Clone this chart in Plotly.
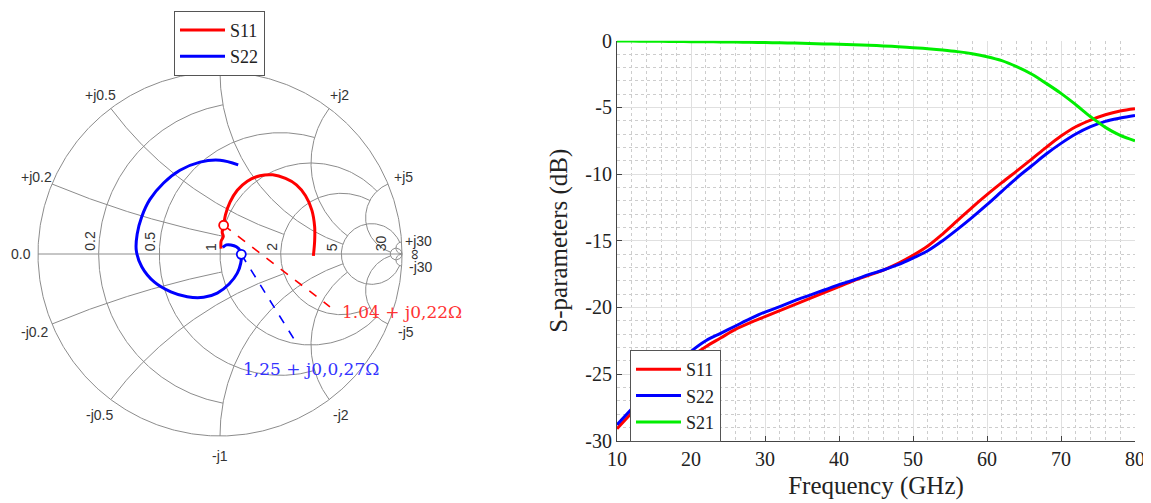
import numpy as np
import plotly.graph_objects as go

# ---------------- data: S-parameters vs frequency ----------------
freq_ghz = [10, 12, 14, 16, 18, 20, 22, 24, 26, 28, 30, 32, 34, 36, 38, 40, 42, 44,
            46, 48, 50, 52, 54, 56, 58, 60, 62, 64, 66, 68, 70, 72, 74, 76, 78, 80]
s11_db = [-29.1, -27.9, -26.7, -25.6, -24.6, -23.7, -22.95, -22.3, -21.65, -21.15, -20.7,
          -20.25, -19.8, -19.35, -18.9, -18.45, -18.0, -17.6, -17.2, -16.7, -16.1, -15.4,
          -14.5, -13.5, -12.5, -11.55, -10.65, -9.78, -8.9, -8.0, -7.15, -6.45, -5.95,
          -5.55, -5.27, -5.1]
s22_db = [-28.8, -27.6, -26.4, -25.3, -24.3, -23.3, -22.5, -21.95, -21.4, -20.85, -20.35,
          -19.95, -19.5, -19.1, -18.7, -18.3, -17.95, -17.55, -17.2, -16.8, -16.3, -15.75,
          -15.0, -14.15, -13.25, -12.3, -11.3, -10.3, -9.4, -8.5, -7.7, -7.0, -6.45, -6.05,
          -5.8, -5.6]
s21_db = [-0.02, -0.03, -0.04, -0.05, -0.06, -0.07, -0.08, -0.09, -0.1, -0.12, -0.14,
          -0.16, -0.18, -0.21, -0.24, -0.27, -0.3, -0.34, -0.39, -0.45, -0.52, -0.6,
          -0.7, -0.82, -0.98, -1.2, -1.5, -1.95, -2.5, -3.2, -3.95, -4.8, -5.7, -6.5,
          -7.1, -7.5]

# ---------------- data: reflection coefficients (real, imag) ----------------
s11_re = [0.006, 0.006, 0.018, 0.012, 0.020, 0.030, 0.055, 0.095, 0.150, 0.220, 0.290,
          0.360, 0.420, 0.470, 0.505, 0.520, 0.520, 0.513]
s11_im = [0.030, 0.070, 0.095, 0.120, 0.158, 0.215, 0.285, 0.350, 0.400, 0.430, 0.435,
          0.415, 0.380, 0.320, 0.240, 0.150, 0.070, -0.010]
s22_re = [0.015, 0.035, 0.060, 0.090, 0.110, 0.117, 0.114, 0.095, 0.050, -0.015, -0.090,
          -0.180, -0.270, -0.360, -0.430, -0.460, -0.455, -0.430, -0.385, -0.310, -0.220,
          -0.110, 0.000, 0.100]
s22_im = [0.037, 0.050, 0.050, 0.040, 0.020, -0.002, -0.050, -0.105, -0.165, -0.215,
          -0.238, -0.235, -0.208, -0.155, -0.070, 0.020, 0.110, 0.205, 0.300, 0.390,
          0.460, 0.505, 0.515, 0.490]

# marked points and the ends of their leader lines
s11_marker = [0.020, 0.158]
s22_marker = [0.117, -0.002]
s11_label_end = [0.604, -0.290]
s22_label_end = [0.421, -0.491]
s11_label = "1.04 + j0,22\u03a9"
s22_label = "1,25 + j0,0,27\u03a9"

# Smith grid values and where each grid line stops (MATLAB style)
grid_values = [0.2, 0.5, 1, 2, 5, 30]
grid_limits = [1, 2, 5, 5, 30, np.inf]
real_labels = ["0.2", "0.5", "1", "2", "5", "30"]
imag_label_values = [0.2, 0.5, 2, 5, 30, -0.2, -0.5, -1, -2, -5, -30, 0.0]
imag_labels = ["+j0.2", "+j0.5", "+j2", "+j5", "+j30",
               "-j0.2", "-j0.5", "-j1", "-j2", "-j5", "-j30", "0.0"]

x_ticks = [10, 20, 30, 40, 50, 60, 70, 80]
y_ticks = [0, -5, -10, -15, -20, -25, -30]


def gamma(z):
    z = np.asarray(z, dtype=complex)
    return (z - 1) / (z + 1)


def span(limit):
    return np.pi / 2 - 1e-4 if np.isinf(limit) else np.arctan(limit)


# Smith grid (constant resistance circles and constant reactance arcs)
g_x, g_y = [], []
for v, lim in zip(grid_values, grid_limits):
    g = gamma(v + 1j * np.tan(np.linspace(-span(lim), span(lim), 400)))
    g_x += list(g.real) + [None]
    g_y += list(g.imag) + [None]
    r = np.tan(np.linspace(0, span(lim), 300))
    for s in (1, -1):
        g = gamma(r + 1j * s * v)
        g_x += list(g.real) + [None]
        g_y += list(g.imag) + [None]
phi = np.linspace(0, 2 * np.pi, 721)
g_x += list(np.cos(phi)) + [None, -1.0, 1.0]
g_y += list(np.sin(phi)) + [None, 0.0, 0.0]

# page geometry (the page body adds an 8 px margin)
OFF = 8
WF, HF = 1151 - OFF, 503 - OFF


def px2x(p):
    return (p - OFF) / WF


def py2y(p):
    return 1 - (p - OFF) / HF


RED, BLUE, GREEN = "#ff0000", "#0000ff", "#00ee00"
GRID = "#8c8c8c"
SANS = "Liberation Sans, Arial, sans-serif"
SERIF = "Liberation Serif, Times New Roman, serif"
CX, CY, R = 220, 254, 182     # Smith chart centre and radius in page pixels
PAD = 1.06

fig = go.Figure()
fig.add_trace(go.Scatter(x=g_x, y=g_y, mode="lines", showlegend=False, connectgaps=False,
                         hoverinfo="skip", line=dict(color=GRID, width=1),
                         xaxis="x2", yaxis="y2", cliponaxis=False))

for mk, end, col in [(s11_marker, s11_label_end, RED), (s22_marker, s22_label_end, BLUE)]:
    fig.add_trace(go.Scatter(x=[mk[0], end[0]], y=[mk[1], end[1]], mode="lines",
                             showlegend=False, hoverinfo="skip",
                             line=dict(color=col, width=1.6, dash="dash"),
                             xaxis="x2", yaxis="y2"))

fig.add_trace(go.Scatter(x=s11_re, y=s11_im, mode="lines", name="S11", legend="legend",
                         line=dict(color=RED, width=3, shape="spline"),
                         xaxis="x2", yaxis="y2"))
fig.add_trace(go.Scatter(x=s22_re, y=s22_im, mode="lines", name="S22", legend="legend",
                         line=dict(color=BLUE, width=3, shape="spline"),
                         xaxis="x2", yaxis="y2"))
for mk, col in [(s11_marker, RED), (s22_marker, BLUE)]:
    fig.add_trace(go.Scatter(x=[mk[0]], y=[mk[1]], mode="markers", showlegend=False,
                             marker=dict(size=9, color="white", line=dict(color=col, width=1.8)),
                             xaxis="x2", yaxis="y2"))

fig.add_trace(go.Scatter(x=freq_ghz, y=s11_db, mode="lines", name="S11", legend="legend2",
                         line=dict(color=RED, width=3, shape="spline"), xaxis="x", yaxis="y"))
fig.add_trace(go.Scatter(x=freq_ghz, y=s22_db, mode="lines", name="S22", legend="legend2",
                         line=dict(color=BLUE, width=3, shape="spline"), xaxis="x", yaxis="y"))
fig.add_trace(go.Scatter(x=freq_ghz, y=s21_db, mode="lines", name="S21", legend="legend2",
                         line=dict(color=GREEN, width=3, shape="spline"), xaxis="x", yaxis="y"))

# Smith chart labels (placed in page pixels around the chart)
lab_font = dict(family=SANS, size=14, color="#333")
annotations = []
for v, txt in zip(imag_label_values, imag_labels):
    g = complex(gamma(1j * v))
    rr = R + (17 if g.imag >= 0 else 19.5)
    annotations.append(dict(text=txt, x=px2x(CX + rr * g.real), y=py2y(CY - rr * g.imag),
                            xref="paper", yref="paper", xanchor="center", yanchor="middle",
                            showarrow=False, font=lab_font))
for v, txt in zip(grid_values, real_labels):
    gx = complex(gamma(v)).real
    annotations.append(dict(text=txt, x=px2x(CX + R * gx - 9), y=py2y(CY - 1),
                            xref="paper", yref="paper", xanchor="center", yanchor="bottom",
                            textangle=-90, showarrow=False, font=lab_font))
annotations.append(dict(text="\u221e", x=px2x(CX + R + 11), y=py2y(CY + 1), xref="paper",
                        yref="paper", xanchor="center", yanchor="middle", textangle=-90,
                        showarrow=False, font=dict(family=SANS, size=15, color="#333")))
annotations += [
    dict(text=s11_label, x=px2x(340), y=py2y(312), xref="paper", yref="paper",
         xanchor="left", yanchor="middle", showarrow=False,
         font=dict(family="DejaVu Serif, serif", size=17, color="#ff3333")),
    dict(text=s22_label, x=px2x(241), y=py2y(369), xref="paper", yref="paper",
         xanchor="left", yanchor="middle", showarrow=False,
         font=dict(family="DejaVu Serif, serif", size=17, color="#3333ff")),
]

HALF = R * PAD
fig.update_layout(
    template="none",
    width=WF, height=HF,
    margin=dict(l=0, r=0, t=0, b=0, autoexpand=False),
    paper_bgcolor="white", plot_bgcolor="white",
    font=dict(family=SERIF, color="#222"),
    showlegend=True,
    xaxis2=dict(domain=[px2x(CX - HALF), px2x(CX + HALF)], range=[-PAD, PAD],
                visible=False, anchor="y2", fixedrange=True),
    yaxis2=dict(domain=[py2y(CY + HALF), py2y(CY - HALF)], range=[-PAD, PAD],
                visible=False, anchor="x2", fixedrange=True),
    xaxis=dict(domain=[px2x(617), px2x(1135)], range=[10, 80], tickvals=x_ticks,
               ticktext=[str(v) for v in x_ticks], automargin=False,
               ticks="inside", ticklen=5, tickcolor="#444", showline=True, linecolor="#444",
               showgrid=True, gridcolor="#e0e0e0", gridwidth=1, zeroline=False,
               minor=dict(dtick=2, showgrid=True, gridcolor="#cdcdcd", griddash="dot",
                          ticks=""),
               tickfont=dict(family=SERIF, size=20, color="#222"),
               title=dict(text="Frequency (GHz)", font=dict(family=SERIF, size=25), standoff=7),
               anchor="y"),
    yaxis=dict(domain=[py2y(440.7), py2y(40.7)], range=[-30, 0], tickvals=y_ticks,
               ticktext=[str(v) for v in y_ticks], automargin=False,
               ticks="inside", ticklen=5, tickcolor="#444", showline=True, linecolor="#444",
               showgrid=True, gridcolor="#e0e0e0", gridwidth=1, zeroline=False,
               minor=dict(dtick=1, showgrid=True, gridcolor="#cdcdcd", griddash="dot",
                          ticks=""),
               tickfont=dict(family=SERIF, size=20, color="#222"),
               title=dict(text="S-parameters (dB)", font=dict(family=SERIF, size=25), standoff=10),
               anchor="x"),
    legend=dict(x=px2x(174), y=py2y(10.7), xanchor="left", yanchor="top",
                bgcolor="white", bordercolor="#555", borderwidth=1, itemwidth=45,
                font=dict(family=SERIF, size=18, color="#222"), tracegroupgap=0),
    legend2=dict(x=px2x(630), y=py2y(350), xanchor="left", yanchor="top",
                 bgcolor="white", bordercolor="#555", borderwidth=1, itemwidth=45,
                 font=dict(family=SERIF, size=18, color="#222"), tracegroupgap=0),
    annotations=annotations,
)

fig.write_html("out.html")
